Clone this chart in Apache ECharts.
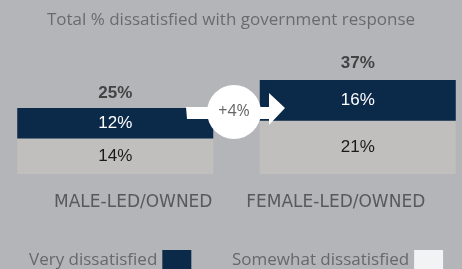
<!DOCTYPE html>
<html>
<head>
<meta charset="utf-8">
<script src="https://cdn.jsdelivr.net/npm/echarts@6/dist/echarts.min.js"></script>
<style>
  html, body { margin: 0; padding: 0; background: #b4b5b9; }
  #main { width: 462px; height: 269px; }
</style>
</head>
<body>
<div id="main"></div>
<script>
var categories = ['MALE-LED/OWNED', 'FEMALE-LED/OWNED'];
var veryDissatisfied = [12, 16];
var somewhatDissatisfied = [14, 21];
var totals = [25, 37];
var gapLabel = '+4%';

var myChart = echarts.init(document.getElementById('main'));

// legend text sits a little above the swatch centre
var legendText = {
  fontFamily: 'Open Sans', fontSize: 17, color: '#67686c',
  rich: { t: { fontFamily: 'Open Sans', fontSize: 17, color: '#67686c', padding: [0, 0, 8, 0] } }
};

var option = {
  backgroundColor: '#b4b5b9',
  animation: false,
  title: {
    text: 'Total % dissatisfied with government response',
    left: 'center',
    top: 7,
    textStyle: { fontFamily: 'Open Sans', fontSize: 17, fontWeight: 'normal', color: '#6a6b6f' }
  },
  legend: [
    {
      left: 24,
      top: 245,
      align: 'right',
      itemWidth: 29,
      itemHeight: 28,
      icon: 'rect',
      formatter: '{t|{name}}',
      textStyle: legendText,
      data: [{ name: 'Very dissatisfied', itemStyle: { color: '#0b2949' } }]
    },
    {
      left: 227,
      top: 245,
      align: 'right',
      itemWidth: 29,
      itemHeight: 28,
      icon: 'rect',
      formatter: '{t|{name}}',
      textStyle: legendText,
      data: [{ name: 'Somewhat dissatisfied', itemStyle: { color: '#f2f3f5' } }]
    }
  ],
  grid: { left: -6, width: 485, top: 47, bottom: 95, outerBoundsMode: 'none', containLabel: false },
  xAxis: {
    type: 'category',
    data: categories,
    axisLine: { show: false },
    axisTick: { show: false },
    axisLabel: {
      margin: 20,
      formatter: function (v, i) { return i === 0 ? '{m|' + v + '}' : '{f|' + v + '}'; },
      rich: {
        m: { fontFamily: 'DejaVu Sans', fontSize: 17, color: '#58595c', padding: [0, 0, 0, 36] },
        f: { fontFamily: 'DejaVu Sans', fontSize: 17, color: '#58595c', padding: [0, 44, 0, 0] }
      }
    }
  },
  yAxis: { type: 'value', min: 0, max: 50, show: false },
  series: [
    {
      name: 'Somewhat dissatisfied',
      type: 'bar',
      stack: 'total',
      barWidth: 196,
      itemStyle: { color: '#c1bfbd' },
      label: {
        show: true, position: 'inside', formatter: '{c}%',
        fontFamily: 'Liberation Sans', fontSize: 17, color: '#1a1a1a'
      },
      data: somewhatDissatisfied
    },
    {
      name: 'Very dissatisfied',
      type: 'bar',
      stack: 'total',
      barWidth: 196,
      itemStyle: { color: '#0b2949' },
      label: {
        show: true, position: 'inside', formatter: '{c}%',
        fontFamily: 'Liberation Sans', fontSize: 17, color: '#ffffff'
      },
      data: veryDissatisfied
    },
    {
      name: 'Total',
      type: 'line',
      symbol: 'circle',
      symbolSize: 1,
      itemStyle: { color: 'transparent' },
      lineStyle: { width: 0 },
      label: {
        show: true, position: 'top', distance: 8, formatter: '{c}%',
        fontFamily: 'Liberation Sans', fontSize: 17, fontWeight: 'bold', color: '#434343'
      },
      data: totals
    }
  ],
  graphic: [
    {
      type: 'polygon',
      z: 100,
      shape: { points: [[186, 107], [269, 107], [269, 93], [285, 108], [269, 125], [269, 119], [187, 119]] },
      style: { fill: '#ffffff' }
    },
    {
      type: 'circle',
      z: 101,
      shape: { cx: 234, cy: 112, r: 27 },
      style: { fill: '#ffffff' }
    },
    {
      type: 'text',
      z: 102,
      x: 234,
      y: 111,
      style: {
        text: gapLabel, align: 'center', verticalAlign: 'middle',
        fontFamily: 'Open Sans', fontSize: 16, fill: '#666666'
      }
    }
  ]
};
myChart.setOption(option);
</script>
</body>
</html>
